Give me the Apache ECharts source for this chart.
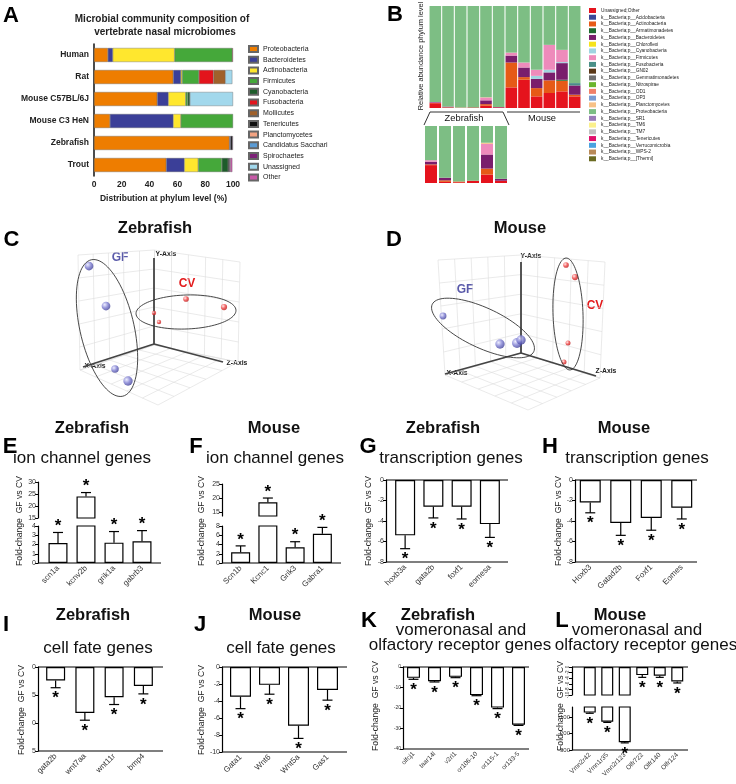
<!DOCTYPE html>
<html>
<head>
<meta charset="utf-8">
<script src="https://cdn.jsdelivr.net/npm/echarts@6/dist/echarts.min.js"></script>
<style>html,body{margin:0;padding:0;background:#fff}#main{width:736px;height:784px}</style>
</head>
<body>
<div id="main"></div>
<script>
// ---- A: nasal microbiome composition (%)
var hostNames = ['Human', 'Rat', 'Mouse C57BL/6J', 'Mouse C3 HeN', 'Zebrafish', 'Trout'];
var phylaA = ['Proteobacteria', 'Bacteroidetes', 'Actinobacteria', 'Firmicutes', 'Cyanobacteria', 'Fusobacteria',
  'Mollicutes', 'Tenericutes', 'Planctomycetes', 'Candidatus Sacchari', 'Spirochaetes', 'Unassigned', 'Other'];
var colorsA = ['#ee7d00', '#3b3f98', '#ffe72e', '#45a83a', '#1d5c2a', '#e3141c', '#a0612b', '#111111',
  '#f2a382', '#5a9bd5', '#7c2277', '#a2d8ec', '#c85aa8'];
var aProteo = [10, 57, 45.5, 11.5, 97.5, 52];
var aBactero = [3.5, 5.5, 8, 45.5, 0.8, 13];
var aActino = [44.5, 1, 12.5, 5.5, 0, 10];
var aFirmi = [41.5, 12, 1.5, 37.5, 0, 17];
var aCyano = [0, 0, 1.5, 0, 0, 4.5];
var aFuso = [0.5, 10.5, 0, 0, 0, 0];
var aMolli = [0, 8.5, 0, 0, 0, 0];
var aTeneri = [0, 0, 0, 0, 1.2, 1];
var aPlancto = [0, 0, 0, 0, 0, 0];
var aSacchari = [0, 0, 0, 0, 0, 0];
var aSpiro = [0, 0, 0, 0, 0.5, 0.5];
var aUnassigned = [0, 5, 31, 0, 0, 0];
var aOther = [0, 0, 0, 0, 0, 1.5];

// ---- B: relative abundance per sample (6 zebrafish, 6 mouse)
var sampleIds = ['Z1', 'Z2', 'Z3', 'Z4', 'Z5', 'Z6', 'M1', 'M2', 'M3', 'M4', 'M5', 'M6'];
var phylaB = ['Unassigned;Other', 'k__Bacteria;p__Acidobacteria', 'k__Bacteria;p__Actinobacteria',
  'k__Bacteria;p__Armatimonadetes', 'k__Bacteria;p__Bacteroidetes', 'k__Bacteria;p__Chloroflexi',
  'k__Bacteria;p__Cyanobacteria', 'k__Bacteria;p__Firmicutes', 'k__Bacteria;p__Fusobacteria',
  'k__Bacteria;p__GN02', 'k__Bacteria;p__Gemmatimonadetes', 'k__Bacteria;p__Nitrospirae', 'k__Bacteria;p__OD1',
  'k__Bacteria;p__OP3', 'k__Bacteria;p__Planctomycetes', 'k__Bacteria;p__Proteobacteria', 'k__Bacteria;p__SR1',
  'k__Bacteria;p__TM6', 'k__Bacteria;p__TM7', 'k__Bacteria;p__Tenericutes', 'k__Bacteria;p__Verrucomicrobia',
  'k__Bacteria;p__WPS-2', 'k__Bacteria;p__[Thermi]'];
var colorsB = ['#e5131d', '#3a4898', '#e65a17', '#1f6b30', '#7a1e6c', '#f6e31c', '#9fd4e0', '#ee8bbb', '#4a8f87',
  '#5a3818', '#707070', '#6ab52e', '#f08068', '#7a9bd2', '#f7c187', '#7dbe84', '#9b7bb8', '#fbf08c', '#c0c0c0',
  '#e0106b', '#4aa2e0', '#b98a58', '#6b6b22'];
var zero12 = [0, 0, 0, 0, 0, 0, 0, 0, 0, 0, 0, 0];
var bUnassigned = [4.7, 0.3, 0.2, 0.6, 2.2, 0.6, 20.2, 27.7, 11.4, 14.7, 16.3, 11.4];
var bActino = [0.2, 0.4, 0.2, 0, 1.6, 0, 24.4, 2.6, 8.1, 12.4, 10.4, 1.6];
var bArmat = [0, 0, 0, 0, 0, 0, 0, 0, 0, 0, 1.0, 0];
var bBactero = [0.7, 0.7, 0, 0, 3.7, 0.5, 6.8, 9.4, 9.1, 7.8, 16.3, 9.1];
var bCyano = [0, 0, 0, 0, 0, 0, 0, 0, 2.9, 2.6, 1.0, 0];
var bFirmi = [0.4, 0, 0, 0, 2.8, 0, 2.9, 4.9, 5.9, 24.4, 12.0, 0];
var bFuso = [0, 0, 0, 0, 0, 0, 0, 0, 0, 0, 0, 2.3];
var bPlancto = [0, 0, 0, 0, 0.3, 0, 0, 0, 0, 0, 0, 0];
var bProteo = [94.0, 98.6, 99.6, 99.4, 89.4, 98.9, 45.7, 55.4, 62.6, 38.1, 43.0, 75.6];

// ---- C / D: PCA projections (plot-plane units)
var cGfX = [29, 46, 55, 68], cGfY = [26, 66, 129, 141], cGfSize = [7, 7, 6, 7.5];
var cCvX = [126, 164, 94, 99], cCvY = [59, 67, 73, 82], cCvSize = [4.5, 5, 3.5, 3.5];
var dGfX = [23, 80, 97, 101], dGfY = [76, 104, 103, 100], dGfSize = [5.5, 7.5, 8, 7.5];
var dCvX = [146, 155, 148, 144], dCvY = [25, 37, 103, 122], dCvSize = [4.5, 5, 4, 4];

// ---- E-L: fold change GF vs CV (mean, sem)
var eGenes = ['scn1a', 'kcnv2b', 'grik1a', 'gabrb3'], eMean = [2.15, 24.0, 2.2, 2.35], eErr = [1.15, 1.6, 1.2, 1.15];
var fGenes = ['Scn1b', 'Kcnc1', 'Grik3', 'Gabra1'], fMean = [2.3, 18.5, 3.4, 6.3], fErr = [1.4, 1.5, 1.2, 1.4];
var gGenes = ['hoxb3a', 'gata2b', 'foxf1', 'eomesa'], gMean = [-5.4, -2.6, -2.6, -4.3], gErr = [1.3, 1.1, 1.2, 1.3];
var hGenes = ['Hoxb3', 'Gatad2b', 'Foxf1', 'Eomes'], hMean = [-2.2, -4.2, -3.7, -2.7], hErr = [1.0, 1.2, 1.2, 1.1];
var iGenes = ['gata2b', 'wnt7aa', 'wnt11r', 'bmp4'], iMean = [-2.4, -8.2, -5.4, -3.4], iErr = [1.3, 1.3, 1.3, 1.4];
var jGenes = ['Gata1', 'Wnt6', 'Wnt5a', 'Gas1'], jMean = [-3.5, -2.1, -6.9, -2.7], jErr = [1.4, 1.1, 1.5, 1.2];
var kGenes = ['olfcj1', 'taar14l', 'v2rl1', 'or106-10', 'or115-1', 'or133-5'];
var kMean = [-5.3, -6.9, -4.8, -13.7, -19.8, -28.2], kErr = [0.7, 0.4, 0.4, 0.3, 0.5, 0.3];
var lGenes = ['Vmn2r42', 'Vmn1r35', 'Vmn2r123', 'Olfr722', 'Olfr140', 'Olfr124'];
var lMean = [-74, -129, -253, -2.9, -3.1, -5.2], lErr = [4, 4, 4, 0.8, 0.6, 0.5];

var FONT = '"Liberation Sans", Arial, sans-serif';
var chart = echarts.init(document.getElementById('main'), null, {renderer: 'canvas'});
var grid = [], xAxis = [], yAxis = [], series = [], graphic = [];

function nz(v) { return v === 0 ? '-' : v; }

function addCoord(g, xa, ya) {
  g.outerBoundsMode = 'none';
  grid.push(g);
  xa.gridIndex = grid.length - 1; ya.gridIndex = grid.length - 1;
  xAxis.push(xa); yAxis.push(ya);
  return {g: grid.length - 1, x: xAxis.length - 1, y: yAxis.length - 1};
}

function label(x, y, text, size, bold, color, rot) {
  graphic.push({type: 'text', x: x, y: y, rotation: rot || 0, silent: true,
    style: {text: text, fontSize: size, fontWeight: bold ? 'bold' : 'normal', fontFamily: FONT, fill: color || '#111',
      textAlign: 'center', textVerticalAlign: 'middle', align: 'center', verticalAlign: 'middle'}});
}
function rule(x1, y1, x2, y2) {
  graphic.push({type: 'line', silent: true, shape: {x1: x1, y1: y1, x2: x2, y2: y2}, style: {stroke: '#333', lineWidth: 1}});
}

// ================= A
var cA = addCoord({left: 94, top: 44, width: 139, height: 132},
  {type: 'value', min: 0, max: 100, interval: 20, splitLine: {show: false},
    axisLine: {lineStyle: {color: '#111', width: 1.5}}, axisTick: {length: 3, lineStyle: {color: '#111', width: 1.2}},
    axisLabel: {fontSize: 8.5, fontWeight: 'bold', color: '#222', margin: 4, fontFamily: FONT},
    name: 'Distribution at phylum level (%)', nameLocation: 'middle', nameGap: 18,
    nameTextStyle: {fontSize: 8.5, fontWeight: 'bold', color: '#222', fontFamily: FONT}},
  {type: 'category', data: hostNames, inverse: true,
    axisLine: {lineStyle: {color: '#111', width: 1.5}},
    axisTick: {alignWithLabel: true, length: 3, lineStyle: {color: '#111', width: 1.2}},
    axisLabel: {fontSize: 8.5, fontWeight: 'bold', color: '#222', margin: 5, fontFamily: FONT}});
var aVals = [aProteo, aBactero, aActino, aFirmi, aCyano, aFuso, aMolli, aTeneri, aPlancto, aSacchari, aSpiro, aUnassigned, aOther];
phylaA.forEach(function (name, k) {
  series.push({type: 'bar', name: name, stack: 'A', xAxisIndex: cA.x, yAxisIndex: cA.y, barWidth: 14,
    data: aVals[k].map(nz), itemStyle: {color: colorsA[k], borderColor: '#666', borderWidth: 0.4}});
});
label(162, 19, 'Microbial community composition of', 10, true, '#222');
label(165, 32, 'vertebrate nasal microbiomes', 10, true, '#222');
label(11, 16, 'A', 22, true, '#000');

// ================= B
var bVals = phylaB.map(function () { return zero12; });
bVals[0] = bUnassigned; bVals[2] = bActino; bVals[3] = bArmat; bVals[4] = bBactero; bVals[6] = bCyano;
bVals[7] = bFirmi; bVals[8] = bFuso; bVals[14] = bPlancto; bVals[15] = bProteo;
var cB = addCoord({left: 429, top: 6, width: 152, height: 102},
  {type: 'category', data: sampleIds, show: false}, {type: 'value', min: 0, max: 100, show: false});
var cBz = addCoord({left: 424, top: 126, width: 84, height: 57},
  {type: 'category', data: sampleIds.slice(0, 6), show: false}, {type: 'value', min: 0, max: 15, show: false});
phylaB.forEach(function (name, k) {
  series.push({type: 'bar', name: name, stack: 'B1', xAxisIndex: cB.x, yAxisIndex: cB.y, barWidth: 11.6,
    data: bVals[k].map(nz), itemStyle: {color: colorsB[k]}});
  series.push({type: 'bar', name: name, stack: 'B2', xAxisIndex: cBz.x, yAxisIndex: cBz.y, barWidth: 12,
    data: bVals[k].slice(0, 6).map(nz), itemStyle: {color: colorsB[k]}});
});
label(395, 15, 'B', 22, true, '#000');
label(421, 56, 'Relative abundance phylum level', 7.4, false, '#222', Math.PI / 2);
rule(430, 112, 503, 112); rule(507, 112, 580, 112);
rule(430, 112, 424, 125); rule(503, 112, 509, 125);
label(464, 118.5, 'Zebrafish', 9.3, false, '#111');
label(542, 118.5, 'Mouse', 9.3, false, '#111');

// ================= C / D  (3D PCA drawn on a projected plane)
var ballBlue = {type: 'radial', x: 0.35, y: 0.35, r: 0.75, colorStops: [{offset: 0, color: '#e8e8ff'}, {offset: 0.5, color: '#7b7bd0'}, {offset: 1, color: '#36368c'}]};
var ballRed = {type: 'radial', x: 0.35, y: 0.35, r: 0.75, colorStops: [{offset: 0, color: '#ffe2e2'}, {offset: 0.5, color: '#f04444'}, {offset: 1, color: '#b01010'}]};

function lerp(a, b, t) { return [a[0] + (b[0] - a[0]) * t, a[1] + (b[1] - a[1]) * t]; }
function wallLines(q, n) {
  var out = [];
  for (var i = 0; i <= n; i++) {
    var t = i / n;
    out.push({coords: [lerp(q[0], q[3], t), lerp(q[1], q[2], t)]});
    out.push({coords: [lerp(q[0], q[1], t), lerp(q[3], q[2], t)]});
  }
  return out;
}
function ellipseSeries(c, list) {
  return {type: 'custom', xAxisIndex: c.x, yAxisIndex: c.y, silent: true, data: list, z: 6,
    renderItem: function (params, api) {
      var cx = api.value(0), cy = api.value(1), a = api.value(2), b = api.value(3), ang = api.value(4) * Math.PI / 180;
      var pts = [];
      for (var i = 0; i < 90; i++) {
        var t = i / 90 * 2 * Math.PI;
        pts.push(api.coord([cx + a * Math.cos(t) * Math.cos(ang) - b * Math.sin(t) * Math.sin(ang),
          cy + a * Math.cos(t) * Math.sin(ang) + b * Math.sin(t) * Math.cos(ang)]));
      }
      return {type: 'polygon', shape: {points: pts}, style: {fill: 'none', stroke: '#333', lineWidth: 0.9}};
    }};
}
function pca(left, top, walls, axes, gf, cv, ellipses) {
  var c = addCoord({left: left, top: top, width: 200, height: 180},
    {type: 'value', min: 0, max: 200, show: false}, {type: 'value', min: 0, max: 180, inverse: true, show: false});
  var wl = [];
  walls.forEach(function (q) { wl = wl.concat(wallLines(q, 5)); });
  series.push({type: 'lines', coordinateSystem: 'cartesian2d', xAxisIndex: c.x, yAxisIndex: c.y, silent: true,
    data: wl, lineStyle: {color: '#dcdcdc', width: 0.6, opacity: 1}, z: 1});
  series.push({type: 'lines', coordinateSystem: 'cartesian2d', xAxisIndex: c.x, yAxisIndex: c.y, silent: true,
    data: axes.slice(1).map(function (p) { return {coords: [axes[0], p]}; }),
    lineStyle: {color: '#444', width: 1.8, opacity: 1}, z: 2});
  series.push({type: 'scatter', xAxisIndex: c.x, yAxisIndex: c.y, silent: true, z: 5,
    data: gf[0].map(function (x, i) { return [x, gf[1][i], gf[2][i]]; }),
    symbolSize: function (v) { return v[2] * 1.25; }, itemStyle: {color: ballBlue}});
  series.push({type: 'scatter', xAxisIndex: c.x, yAxisIndex: c.y, silent: true, z: 5,
    data: cv[0].map(function (x, i) { return [x, cv[1][i], cv[2][i]]; }),
    symbolSize: function (v) { return v[2] * 1.25; }, itemStyle: {color: ballRed}});
  series.push(ellipseSeries(c, ellipses));
}
pca(60, 240,
  [[[18, 15], [94, 10], [94, 105], [20, 130]], [[94, 10], [180, 22], [178, 122], [94, 105]], [[20, 130], [94, 105], [178, 122], [98, 165]]],
  [[94, 104], [94, 18], [23, 127], [163, 122]],
  [cGfX, cGfY, cGfSize], [cCvX, cCvY, cCvSize],
  [[47, 88, 70, 27, 77], [126, 72, 50, 17, -2]]);
pca(420, 240,
  [[[18, 20], [101, 15], [101, 113], [25, 135]], [[101, 15], [185, 22], [180, 138], [101, 113]], [[25, 135], [101, 113], [180, 138], [108, 170]]],
  [[101, 113], [101, 22], [25, 134], [176, 136]],
  [dGfX, dGfY, dGfSize], [dCvX, dCvY, dCvSize],
  [[63, 88, 56, 20, 25], [148, 74, 56, 15, 88]]);
label(11.5, 240, 'C', 22, true, '#000');
label(155, 228, 'Zebrafish', 16.5, true, '#111');
label(166, 254, 'Y-Axis', 6.8, true, '#222');
label(95, 366, 'X-Axis', 6.8, true, '#222');
label(237, 363, 'Z-Axis', 6.8, true, '#222');
label(120, 258, 'GF', 12, true, '#5a5aaa');
label(187, 284, 'CV', 12, true, '#e31a1c');
label(394, 240, 'D', 22, true, '#000');
label(520, 228, 'Mouse', 16.5, true, '#111');
label(531, 256, 'Y-Axis', 6.8, true, '#222');
label(457, 373, 'X-Axis', 6.8, true, '#222');
label(606, 371, 'Z-Axis', 6.8, true, '#222');
label(465, 290, 'GF', 12, true, '#5a5aaa');
label(595, 306, 'CV', 12, true, '#e31a1c');

// ================= E-L  gene bar panels
function errorBar(p, s, first, last) {
  return function (params, api) {
    var cs = params.coordSys, kids = [];
    function line(x1, y1, x2, y2) {
      kids.push({type: 'line', shape: {x1: x1, y1: y1, x2: x2, y2: y2}, style: {stroke: '#000', lineWidth: 1.2}});
    }
    if (params.dataIndex === 0) {
      if (last) line(cs.x - p.offset, cs.y + cs.height, cs.x + cs.width + p.extR, cs.y + cs.height);
      if (first && p.neg) line(cs.x - p.offset, cs.y, cs.x + cs.width + p.extR, cs.y);
    }
    var i = api.value(0), v = api.value(1), e = api.value(2);
    var end = v < 0 ? v - e : v + e;
    if (v >= s.min && v <= s.max && end >= s.min && end <= s.max) {
      var a = api.coord([i, v]), b = api.coord([i, end]);
      line(a[0], a[1], b[0], b[1]);
      line(b[0] - p.cap, b[1], b[0] + p.cap, b[1]);
      kids.push({type: 'text', style: {text: '*', x: b[0], y: v < 0 ? b[1] + 11 : b[1] - 6,
        align: 'center', verticalAlign: 'middle', textAlign: 'center', textVerticalAlign: 'middle',
        fontSize: 17, fontWeight: 'bold', fontFamily: FONT, fill: '#000'}});
    }
    return {type: 'group', children: kids};
  };
}
function genePanel(p) {
  p.segs.forEach(function (s, k) {
    var first = k === 0, last = k === p.segs.length - 1;
    var ya = {type: 'value', min: s.min, max: s.max, offset: p.offset, splitLine: {show: false},
      axisLine: {show: true, lineStyle: {color: '#000', width: 1.2}},
      axisTick: {show: true, length: 3, lineStyle: {color: '#000', width: 1}},
      axisLabel: {fontSize: s.size || 7, color: '#333', margin: 2, rotate: s.rot || 0, fontFamily: FONT}};
    if (s.step) ya.interval = s.step;
    if (s.ticks) { ya.axisTick.customValues = s.ticks; ya.axisLabel.customValues = s.ticks; }
    if (s.fmt) ya.axisLabel.formatter = s.fmt;
    var c = addCoord({left: p.left, top: s.top, width: p.width, height: s.bottom - s.top},
      {type: 'category', data: p.genes, show: last, position: 'bottom',
        axisLine: {show: false, onZero: false},
        axisTick: {alignWithLabel: true, length: 3, lineStyle: {color: '#000', width: 1}},
        axisLabel: {rotate: 45, interval: 0, fontSize: p.labelSize, color: '#333', margin: 4, fontFamily: FONT}},
      ya);
    var vals = p.mean.map(function (v) { return (Math.min(0, v) < s.max && Math.max(0, v) > s.min) ? v : '-'; });
    series.push({type: 'bar', xAxisIndex: c.x, yAxisIndex: c.y, data: vals, barWidth: p.barWidth, silent: true,
      itemStyle: {color: '#fff', borderColor: '#000', borderWidth: 1.2}});
    series.push({type: 'custom', xAxisIndex: c.x, yAxisIndex: c.y, silent: true, z: 4,
      data: p.mean.map(function (v, i) { return [i, v, p.err[i]]; }), renderItem: errorBar(p, s, first, last)});
  });
  label(p.titleX, p.ytY, 'Fold-change  GF vs CV', 8.6, false, '#222', Math.PI / 2);
}

genePanel({genes: eGenes, mean: eMean, err: eErr, left: 44, width: 112, offset: 6, extR: 5, barWidth: 19, cap: 5,
  labelSize: 8, titleX: 20, ytY: 521,
  segs: [{top: 482, bottom: 518, min: 15, max: 30, step: 5}, {top: 526, bottom: 563, min: 0, max: 4, step: 1}]});
genePanel({genes: fGenes, mean: fMean, err: fErr, left: 227, width: 109, offset: 5, extR: 5, barWidth: 19, cap: 5,
  labelSize: 8, titleX: 202, ytY: 521,
  segs: [{top: 484, bottom: 516, min: 13.6, max: 25, ticks: [15, 20, 25]}, {top: 526, bottom: 563, min: 0, max: 8, step: 2}]});
genePanel({genes: gGenes, mean: gMean, err: gErr, left: 391, width: 113, offset: 5, extR: 4, barWidth: 20, cap: 5,
  labelSize: 8, titleX: 369, ytY: 521, neg: true,
  segs: [{top: 480, bottom: 562, min: -8, max: 0, step: 2}]});
genePanel({genes: hGenes, mean: hMean, err: hErr, left: 575, width: 122, offset: 0, extR: 0, barWidth: 21, cap: 5,
  labelSize: 8, titleX: 559, ytY: 521, neg: true,
  segs: [{top: 480, bottom: 562, min: -8, max: 0, step: 2}]});
genePanel({genes: iGenes, mean: iMean, err: iErr, left: 41, width: 117, offset: 3, extR: 5, barWidth: 19, cap: 5,
  labelSize: 8, titleX: 22, ytY: 710, neg: true,
  segs: [{top: 667, bottom: 751, min: -15, max: 0, step: 5, fmt: function (v) { return String(Math.abs(v) % 10); }}]});
genePanel({genes: jGenes, mean: jMean, err: jErr, left: 226, width: 116, offset: 4, extR: 5, barWidth: 21, cap: 5,
  labelSize: 8, titleX: 202, ytY: 710, neg: true,
  segs: [{top: 667, bottom: 752, min: -10, max: 0, step: 2}]});
genePanel({genes: kGenes, mean: kMean, err: kErr, left: 403, width: 126, offset: 0, extR: 0, barWidth: 13, cap: 5,
  labelSize: 6.5, titleX: 376, ytY: 706, neg: true,
  segs: [{top: 667, bottom: 749, min: -40, max: 0, step: 10, size: 5}]});
genePanel({genes: lGenes, mean: lMean, err: lErr, left: 581, width: 105, offset: 9, extR: 2, barWidth: 12, cap: 4,
  labelSize: 6.5, titleX: 561, ytY: 706, neg: true,
  segs: [{top: 667, bottom: 695, min: -10, max: 0, step: 2, size: 4.5, rot: 90},
    {top: 707, bottom: 750, min: -300, max: -40, ticks: [-300, -200, -100], size: 6}]});

// panel letters and headings
label(10, 447, 'E', 22, true, '#000'); label(92, 428, 'Zebrafish', 16.5, true); label(82, 458, 'ion channel genes', 17);
label(196, 447, 'F', 22, true, '#000'); label(274, 428, 'Mouse', 16.5, true); label(275, 458, 'ion channel genes', 17);
label(368, 447, 'G', 22, true, '#000'); label(443, 428, 'Zebrafish', 16.5, true); label(451, 458, 'transcription genes', 17);
label(550, 447, 'H', 22, true, '#000'); label(624, 428, 'Mouse', 16.5, true); label(637, 458, 'transcription genes', 17);
label(6, 625, 'I', 22, true, '#000'); label(93, 615, 'Zebrafish', 16.5, true); label(98, 648, 'cell fate genes', 17);
label(200, 625, 'J', 22, true, '#000'); label(275, 615, 'Mouse', 16.5, true); label(281, 648, 'cell fate genes', 17);
label(369, 621, 'K', 22, true, '#000'); label(438, 615, 'Zebrafish', 16.5, true);
label(461, 630, 'vomeronasal and', 17); label(460, 645, 'olfactory receptor genes', 17);
label(562, 621, 'L', 22, true, '#000'); label(620, 615, 'Mouse', 16.5, true);
label(637, 630, 'vomeronasal and', 17); label(646, 645, 'olfactory receptor genes', 17);

chart.setOption({
  animation: false,
  backgroundColor: '#fff',
  textStyle: {fontFamily: FONT},
  legend: [
    {data: phylaA, orient: 'vertical', left: 248, top: 45, itemWidth: 9, itemHeight: 6, itemGap: 2.7, padding: 0,
      icon: 'rect', selectedMode: false, textStyle: {fontSize: 7, lineHeight: 8, color: '#222', fontFamily: FONT}},
    {data: phylaB, orient: 'vertical', left: 589, top: 7.5, itemWidth: 7, itemHeight: 5, itemGap: 0.74, padding: 0,
      icon: 'rect', selectedMode: false, textStyle: {fontSize: 4.8, lineHeight: 6, color: '#222', fontFamily: FONT}}
  ],
  grid: grid,
  xAxis: xAxis,
  yAxis: yAxis,
  series: series,
  graphic: graphic
});
</script>
</body>
</html>
